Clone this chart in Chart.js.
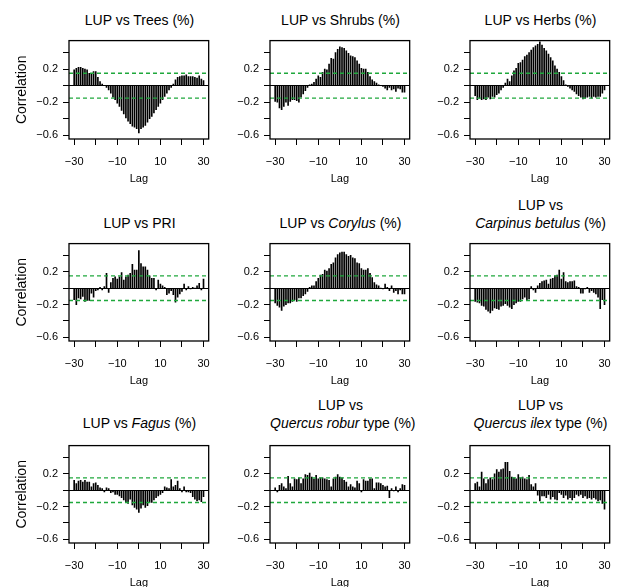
<!DOCTYPE html>
<html>
<head>
<meta charset="utf-8">
<script src="https://cdn.jsdelivr.net/npm/chart.js@4.4.0/dist/chart.umd.min.js"></script>
<style>
  body { margin: 0; background: #fff; width: 622px; height: 587px; position: relative; overflow: hidden;
         font-family: 'Liberation Sans', Arial, sans-serif; }
  .panel { position: absolute; }
  .title { position: absolute; width: 141px; text-align: center; font-size: 14px; line-height: 18px;
           color: #000; white-space: nowrap; }
</style>
</head>
<body>
<script>
// lags of the cross-correlation
const lags = [-30, -29, -28, -27, -26, -25, -24, -23, -22, -21, -20,
  -19, -18, -17, -16, -15, -14, -13, -12, -11, -10,
  -9, -8, -7, -6, -5, -4, -3, -2, -1, 0,
  1, 2, 3, 4, 5, 6, 7, 8, 9, 10,
  11, 12, 13, 14, 15, 16, 17, 18, 19, 20,
  21, 22, 23, 24, 25, 26, 27, 28, 29, 30];

// correlation values
const trees = [0.19, 0.21, 0.22, 0.22, 0.21, 0.20, 0.19, 0.15, 0.14, 0.17, 0.17,
  0.10, 0.05, 0.02, 0.00, -0.02, -0.05, -0.09, -0.14, -0.17, -0.21,
  -0.25, -0.30, -0.34, -0.39, -0.43, -0.46, -0.49, -0.50, -0.52, -0.57,
  -0.52, -0.50, -0.48, -0.44, -0.40, -0.37, -0.33, -0.29, -0.25, -0.21,
  -0.17, -0.13, -0.09, -0.05, -0.02, 0.02, 0.07, 0.10, 0.11, 0.12,
  0.12, 0.13, 0.11, 0.11, 0.11, 0.10, 0.09, 0.12, 0.08, 0.06];
const shrubs = [-0.19, -0.20, -0.27, -0.29, -0.25, -0.20, -0.24, -0.19, -0.17, -0.17, -0.18,
  -0.20, -0.14, -0.10, -0.06, -0.02, 0.01, 0.02, 0.04, 0.08, 0.12,
  0.10, 0.16, 0.20, 0.19, 0.26, 0.33, 0.32, 0.40, 0.44, 0.47,
  0.46, 0.45, 0.42, 0.39, 0.36, 0.35, 0.34, 0.30, 0.26, 0.21,
  0.20, 0.20, 0.16, 0.11, 0.07, 0.05, 0.03, 0.01, 0.00, -0.01,
  -0.03, -0.05, -0.02, -0.05, -0.04, -0.07, -0.03, -0.04, -0.08, -0.08];
const herbs = [-0.12, -0.17, -0.15, -0.17, -0.16, -0.17, -0.14, -0.16, -0.13, -0.14, -0.11,
  -0.09, -0.05, -0.02, 0.03, 0.08, 0.05, 0.12, 0.18, 0.21, 0.27,
  0.28, 0.31, 0.35, 0.37, 0.40, 0.43, 0.46, 0.48, 0.50, 0.53,
  0.49, 0.45, 0.42, 0.38, 0.34, 0.30, 0.24, 0.20, 0.16, 0.11,
  0.06, 0.01, -0.01, -0.03, -0.05, -0.07, -0.10, -0.12, -0.14, -0.16,
  -0.15, -0.14, -0.13, -0.15, -0.13, -0.14, -0.13, -0.13, -0.09, -0.05];
const pri = [-0.14, -0.20, -0.12, -0.13, -0.10, -0.16, -0.15, -0.15, -0.06, -0.11, -0.03,
  -0.02, 0.01, -0.02, 0.02, 0.18, -0.05, 0.07, 0.12, 0.14, 0.11,
  0.14, 0.19, 0.10, 0.14, 0.16, 0.18, 0.29, 0.22, 0.22, 0.46,
  0.30, 0.26, 0.26, 0.22, 0.15, 0.12, 0.12, -0.02, 0.10, 0.05,
  0.03, 0.01, -0.08, -0.06, -0.03, -0.08, -0.17, -0.11, -0.07, -0.04,
  0.05, -0.02, 0.02, -0.01, 0.01, 0.00, 0.03, 0.06, -0.02, 0.11];
const corylus = [-0.18, -0.21, -0.23, -0.27, -0.22, -0.20, -0.18, -0.18, -0.16, -0.14, -0.16,
  -0.12, -0.12, -0.09, -0.07, -0.04, 0.01, 0.03, 0.03, 0.08, 0.12,
  0.16, 0.17, 0.22, 0.21, 0.24, 0.29, 0.31, 0.37, 0.41, 0.43,
  0.44, 0.44, 0.41, 0.39, 0.40, 0.37, 0.36, 0.31, 0.30, 0.24,
  0.22, 0.22, 0.24, 0.18, 0.13, 0.07, 0.04, 0.03, 0.00, -0.01,
  0.05, 0.01, -0.03, 0.03, -0.05, -0.03, -0.07, -0.02, -0.07, -0.07];
const carpinus = [-0.16, -0.17, -0.18, -0.21, -0.22, -0.26, -0.28, -0.30, -0.27, -0.24, -0.25,
  -0.26, -0.22, -0.21, -0.19, -0.21, -0.23, -0.25, -0.20, -0.18, -0.16,
  -0.16, -0.13, -0.11, -0.15, -0.13, 0.02, -0.02, -0.05, 0.03, 0.06,
  0.08, 0.09, 0.10, 0.05, 0.11, 0.12, 0.15, 0.16, 0.22, 0.11,
  0.19, 0.08, 0.07, 0.08, 0.08, 0.09, 0.02, 0.01, -0.06, -0.06,
  -0.01, 0.01, -0.05, -0.03, -0.05, -0.07, -0.11, -0.25, -0.14, -0.20];
const fagus = [0.12, 0.08, 0.11, 0.12, 0.10, 0.12, 0.10, 0.10, 0.04, 0.08, 0.09,
  0.06, 0.03, 0.02, -0.02, 0.03, 0.02, -0.03, -0.02, -0.05, -0.05,
  -0.07, -0.09, -0.12, -0.15, -0.16, -0.11, -0.18, -0.21, -0.23, -0.27,
  -0.22, -0.18, -0.21, -0.19, -0.15, -0.15, -0.12, -0.09, -0.07, -0.05,
  -0.03, 0.04, 0.03, 0.02, 0.13, 0.04, 0.06, 0.11, 0.02, -0.02,
  0.04, -0.02, -0.02, -0.03, -0.08, -0.11, -0.13, -0.12, -0.14, -0.08];
const qRobur = [0.03, -0.02, 0.06, 0.08, 0.04, 0.02, 0.17, 0.08, 0.04, 0.14, 0.13,
  0.15, 0.08, 0.14, 0.19, 0.18, 0.21, 0.16, 0.14, 0.18, 0.14,
  0.15, 0.15, 0.14, 0.13, 0.12, 0.04, 0.14, 0.16, 0.19, 0.16,
  0.15, 0.12, 0.10, 0.04, 0.07, 0.04, 0.03, 0.11, 0.08, -0.02,
  0.13, 0.11, 0.11, 0.14, 0.14, 0.02, 0.09, 0.09, 0.08, 0.06,
  0.04, 0.05, -0.09, 0.02, -0.01, 0.04, -0.02, 0.02, 0.07, 0.06];
const qIlex = [0.08, 0.10, 0.04, 0.22, 0.14, 0.08, 0.13, 0.15, 0.13, 0.20, 0.25,
  0.22, 0.25, 0.26, 0.34, 0.34, 0.23, 0.16, 0.15, 0.14, 0.19,
  0.15, 0.16, 0.14, 0.13, 0.18, 0.07, 0.04, 0.08, -0.06, -0.13,
  -0.07, -0.07, -0.09, -0.05, -0.11, -0.08, -0.11, -0.12, -0.03, -0.05,
  -0.09, -0.06, -0.11, -0.09, -0.12, -0.09, -0.05, -0.07, -0.05, -0.09,
  -0.07, -0.10, -0.09, -0.11, -0.09, -0.11, -0.13, -0.12, -0.16, -0.23];

const titles = [
  'LUP vs Trees (%)', 'LUP vs Shrubs (%)', 'LUP vs Herbs (%)',
  'LUP vs PRI', 'LUP vs <i>Corylus</i> (%)', 'LUP vs<br><i>Carpinus betulus</i> (%)',
  'LUP vs <i>Fagus</i> (%)', 'LUP vs<br><i>Quercus robur</i> type (%)', 'LUP vs<br><i>Quercus ilex</i> type (%)'
];
const series = [trees, shrubs, herbs, pri, corylus, carpinus, fagus, qRobur, qIlex];

const ciBound = 0.15;              // 95% confidence limit
const xLabelled = [-30, -10, 10, 30];
const yLabelled = [0.2, -0.2, -0.6];

const X_MIN = -32.4, X_MAX = 32.4;
const Y_MIN = -0.644, Y_MAX = 0.544;
const GREEN = '#1fa83c';
const FONT = "'Liberation Sans', Arial, sans-serif";

// layout of the 3x3 grid (plot box positions in px)
const colLeft = [69, 270, 470];
const rowTop = [34, 237, 439];
const rowBottom = [139, 341, 543];
const titleBase = [25, 227.5, 428];
const BOX_W = 141, X_AXIS_H = 47, PAD_TOP = 5, PAD_RIGHT = 10;

Chart.defaults.color = '#000';
Chart.defaults.font.family = FONT;

const fmt = v => (v < 0 ? '\u2212' : '') + Math.abs(v);

const boxPlugin = {
  id: 'box',
  afterDraw(chart) {
    const a = chart.chartArea, ctx = chart.ctx;
    ctx.save();
    ctx.strokeStyle = '#000';
    ctx.lineWidth = 1.3;
    ctx.strokeRect(a.left, a.top, a.right - a.left, a.bottom - a.top);
    ctx.restore();
  }
};

series.forEach((vals, i) => {
  const col = i % 3, row = Math.floor(i / 3);
  const yw = col === 0 ? 69 : 45;
  const w = yw + BOX_W + PAD_RIGHT;
  const h = PAD_TOP + (rowBottom[row] - rowTop[row]) + X_AXIS_H;

  const div = document.createElement('div');
  div.className = 'panel';
  div.style.left = (colLeft[col] - yw) + 'px';
  div.style.top = (rowTop[row] - PAD_TOP) + 'px';
  const cv = document.createElement('canvas');
  cv.width = w; cv.height = h;
  cv.style.width = w + 'px'; cv.style.height = h + 'px';
  div.appendChild(cv);
  document.body.appendChild(div);

  const t = document.createElement('div');
  t.className = 'title';
  t.innerHTML = titles[i];
  const nLines = titles[i].split('<br>').length;
  t.style.left = colLeft[col] + 'px';
  t.style.top = (titleBase[row] - 13.9 - (nLines - 1) * 18) + 'px';
  document.body.appendChild(t);

  new Chart(cv, {
    type: 'bar',
    data: {
      datasets: [
        { type: 'bar', data: lags.map((l, k) => ({ x: l, y: vals[k] })),
          backgroundColor: '#000', barThickness: 1.0, order: 2 },
        { type: 'line', data: [{ x: X_MIN, y: ciBound }, { x: X_MAX, y: ciBound }],
          borderColor: GREEN, borderWidth: 1.4, borderDash: [4, 3], pointRadius: 0, order: 1 },
        { type: 'line', data: [{ x: X_MIN, y: -ciBound }, { x: X_MAX, y: -ciBound }],
          borderColor: GREEN, borderWidth: 1.4, borderDash: [4, 3], pointRadius: 0, order: 1 }
      ]
    },
    options: {
      responsive: false,
      animation: false,
      devicePixelRatio: 1,
      events: [],
      layout: { padding: { top: PAD_TOP, right: PAD_RIGHT, left: 0, bottom: 0 } },
      plugins: { legend: { display: false }, tooltip: { enabled: false } },
      scales: {
        x: {
          type: 'linear', min: X_MIN, max: X_MAX, offset: false,
          ticks: {
            stepSize: 10, includeBounds: false, autoSkip: false, maxRotation: 0, padding: 10,
            font: { size: 11 },
            callback: v => xLabelled.includes(v) ? fmt(v) : ''
          },
          grid: { drawOnChartArea: false, tickLength: 6, tickColor: '#000', offset: false },
          border: { display: false },
          title: { display: true, text: 'Lag', font: { size: 11 }, padding: 0 },
          afterFit: s => { s.height = X_AXIS_H; }
        },
        y: {
          min: Y_MIN, max: Y_MAX,
          ticks: {
            stepSize: 0.2, includeBounds: false, padding: 5,
            font: { size: 11 },
            callback: v => {
              const r = Math.round(v * 10) / 10;
              return yLabelled.includes(r) ? fmt(r) : '';
            }
          },
          grid: {
            color: c => (c.tick && Math.abs(c.tick.value) < 1e-9) ? '#000' : 'rgba(0,0,0,0)',
            tickColor: '#000', tickLength: 6, lineWidth: 1
          },
          border: { display: false },
          title: col === 0
            ? { display: true, text: 'Correlation', font: { size: 14 }, padding: { top: 14, bottom: 0 } }
            : { display: false },
          afterFit: s => { s.width = yw; }
        }
      }
    },
    plugins: [boxPlugin]
  });
});
</script>
</body>
</html>
